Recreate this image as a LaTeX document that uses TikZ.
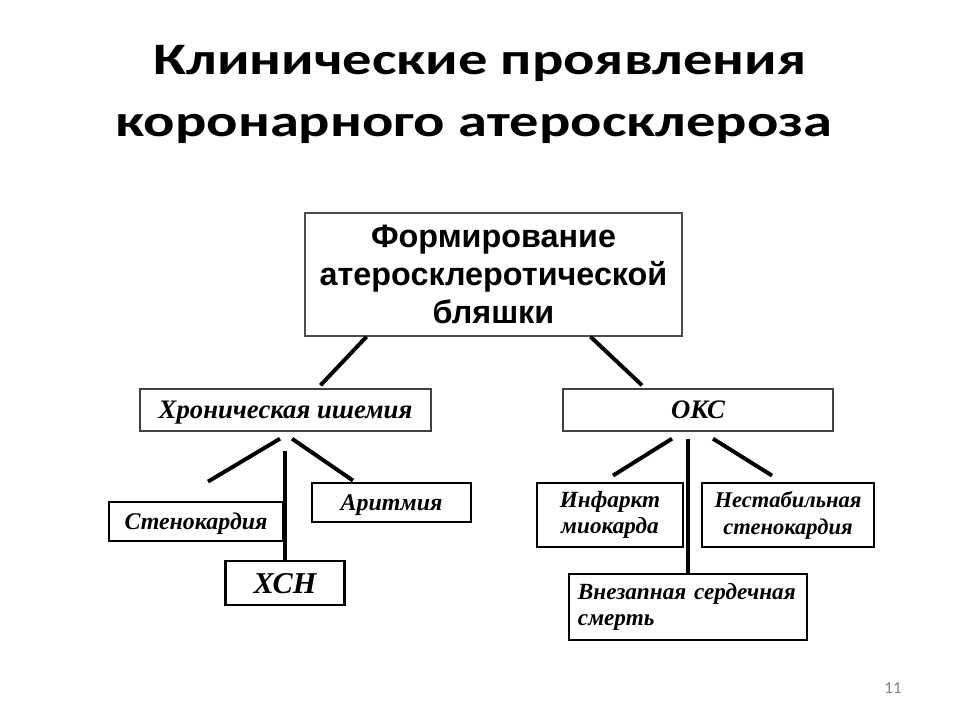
\documentclass[tikz,border=0pt]{standalone}
\usepackage{fontspec}
\setmainfont{Liberation Serif}
\newfontfamily\titlefont[FakeStretch=1.3]{Carlito}
\newfontfamily\numfont{Carlito}
\newfontfamily\boxfont{Liberation Sans}
\usetikzlibrary{positioning, calc}

\begin{document}
\begin{tikzpicture}[x=0.025cm, y=-0.025cm,
    thinbox/.style={draw=black!75, line width=1pt, text depth=0pt, font=\bfseries\itshape\fontsize{19}{23}\selectfont},
    thickbox/.style={draw, line width=2pt, font=\bfseries\itshape\fontsize{17}{19}\selectfont},
    oneline/.style={text depth=0pt},
    link/.style={line width=2.8pt}]
    \useasboundingbox (0,0) rectangle (960,720);

    % title
    \node[anchor=base, font=\titlefont\bfseries\fontsize{32}{38}\selectfont] (title1) at (480,75) {Клинические проявления};
    \node[anchor=base, font=\titlefont\bfseries\fontsize{32}{38}\selectfont] (title2) at (474,137) {коронарного атеросклероза};

    \node[draw=black!70, line width=1pt, minimum width=9.425cm, minimum height=3.075cm, align=center, font=\boxfont\bfseries\fontsize{23}{27}\selectfont] (plaque) at (493.5,274.5) {Формирование\\атеросклеротической\\бляшки};

    \node[thinbox, minimum width=7.275cm, minimum height=1.05cm] (chron) at (285.5,410) {Хроническая ишемия};
    \node[thinbox, minimum width=6.75cm, minimum height=1.05cm] (oks) at (698,410) {ОКС};

    \node[thickbox, oneline, minimum width=4.35cm, minimum height=0.975cm] (angina) at (196,521.5) {Стенокардия};
    \node[thickbox, oneline, minimum width=3.975cm, minimum height=0.975cm] (arrh) at (391.5,502.5) {Аритмия};
    \node[thickbox, oneline, minimum width=2.975cm, minimum height=1.1cm, font=\bfseries\itshape\fontsize{21.5}{24}\selectfont] (chf) at (285,583) {ХСН};

    \node[thickbox, minimum width=3.65cm, minimum height=1.6cm, align=center, font=\bfseries\itshape\fontsize{16.5}{19}\selectfont] (mi) at (610,515) {Инфаркт\\миокарда};
    \node[thickbox, minimum width=4.3cm, minimum height=1.6cm, align=center, font=\bfseries\itshape\fontsize{16}{19}\selectfont] (unstable) at (788,515) {Нестабильная\\стенокардия};
    \node[thickbox, minimum width=5.95cm, minimum height=1.65cm, text width=5.5cm, align=left, font=\bfseries\itshape\fontsize{16.5}{18.5}\selectfont] (scd) at (688,607) {Внезапная сердечная\\смерть};

    \node[text=black!50, font=\numfont\fontsize{12}{14}\selectfont] (pagenum) at (893,688) {11};

    \draw[link] ($(plaque.south)+(-127,0)$) -- ($(chron.north)+(35,-3)$);
    \draw[link] ($(plaque.south)+(97,0)$) -- ($(oks.north)+(-56,-3)$);

    \draw[link] ($(chron.south)+(-5.5,7)$) -- ($(angina.north)+(12,-19)$);
    \draw[link] ($(chron.south)+(-0.5,19)$) -- (chf.north);
    \draw[link] ($(chron.south)+(6.5,7)$) -- ($(arrh.north)+(-38.5,-1)$);

    \draw[link] ($(oks.south)+(-26,7)$) -- ($(mi.north)+(3,-6)$);
    \draw[link] ($(oks.south)+(-10,7)$) -- (scd.north);
    \draw[link] ($(oks.south)+(15,7)$) -- ($(unstable.north)+(-16,-6)$);
\end{tikzpicture}
\end{document}
